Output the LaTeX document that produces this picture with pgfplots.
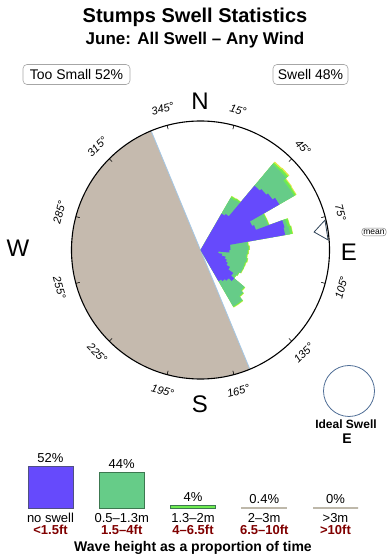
\documentclass[border=0pt]{standalone}
\usepackage{pgfplots}
\pgfplotsset{compat=1.18}
\usepackage{pgfplotstable}
\usepgfplotslibrary{polar}
\usepackage{fontspec}
\setmainfont{Liberation Sans}
\definecolor{cblue}{RGB}{102,74,252}
\definecolor{cgreen}{RGB}{102,204,136}
\definecolor{clgreen}{RGB}{110,236,80}
\definecolor{cyel}{RGB}{225,232,70}
\definecolor{land}{RGB}{197,186,174}
\definecolor{edgeblue}{RGB}{165,200,230}
\definecolor{bluedark}{RGB}{80,80,130}
\definecolor{greendark}{RGB}{60,120,80}
\definecolor{cgray}{RGB}{190,184,170}
\definecolor{dred}{RGB}{128,0,0}
\definecolor{arrowc}{RGB}{50,70,90}
\definecolor{idealc}{RGB}{80,110,150}
% compass direction (deg), cumulative radii: blue, green, light green, yellow
\pgfplotstableread{
ang b g lg yl
30 0 0 0 0
30 42 60 62 62.5
35 42 60 62 62.5
35 44 61 62.5 63
40 44 61 62.5 63
40 84 112 114 115.5
45 84 112 114 115.5
45 86 112 114.5 116
50 86 112 114.5 116
50 88 108 110.5 111.5
55 88 108 110.5 111.5
55 91 108 110 111
60 91 108 110 111
60 57 72 73 73.5
65 57 72 73 73.5
65 59 72 73 73.5
70 59 72 73 73.5
70 87 90 92.5 93
75 87 90 92.5 93
75 86 91 93.5 94
80 86 91 93.5 94
80 30 47 48 48.5
85 30 47 48 48.5
85 30 48 49 49.5
90 30 48 49 49.5
90 29 47 48 48.5
95 29 47 48 48.5
95 18 46 47 47.5
100 18 46 47 47.5
100 22 47 48 48.5
105 22 47 48 48.5
105 26 46 47 47.5
110 26 46 47 47.5
110 28 46 47 47
115 28 46 47 47
115 30 46 46.5 47
120 30 46 46.5 47
120 34 44 45 45
125 34 44 45 45
125 40 43 44 44
130 40 43 44 44
130 44 57 58 58.5
135 44 57 58 58.5
135 40 60 61 61.5
140 40 60 61 61.5
140 38 65 66 66.5
145 38 65 66 66.5
145 36 65 66 66.5
150 36 65 66 66.5
150 0 0 0 0
}\rose
\begin{document}
\begin{tikzpicture}
\path[use as bounding box] (0pt,0pt) rectangle (390pt,560pt);
\node[font=\fontsize{20}{22}\selectfont\bfseries] at (195pt,543pt) {Stumps Swell Statistics};
\node[font=\fontsize{17}{19}\selectfont\bfseries] at (195pt,520pt) {June: All Swell – Any Wind};
\node[draw=gray!70, rounded corners=4pt, line width=0.6pt, minimum width=107pt, minimum height=20pt, inner sep=1pt, font=\fontsize{14}{15}\selectfont] at (76.5pt,485.5pt) {Too Small 52\%};
\node[draw=gray!70, rounded corners=4pt, line width=0.6pt, minimum width=75pt, minimum height=20pt, inner sep=1pt, font=\fontsize{14}{15}\selectfont] at (310.5pt,485.5pt) {Swell 48\%};

\begin{polaraxis}[
  at={(200.5pt,310pt)}, anchor=origin,
  scale only axis, width=258pt, height=258pt,
  xmin=0, xmax=360, ymin=0, ymax=129,
  xtick={15,45,...,345},
  xticklabel={\relax},
  ytick=\empty, grid=none,
  x axis line style={black, line width=1.1pt},
  y axis line style={draw=none},
  tick align=outside, major tick length=4pt,
  tick style={black, line width=0.6pt},
  axis on top, clip=false,
  compass/.style={x filter/.expression={mod(450-x,360)}},
]
\addplot[compass, fill=land, draw=none] coordinates {(0,0) (157.5,129) (165,129) (175,129) (185,129) (195,129) (205,129) (215,129) (225,129) (235,129) (245,129) (255,129) (265,129) (275,129) (285,129) (295,129) (305,129) (315,129) (325,129) (335,129) (337.5,129)} -- cycle;
\addplot[compass, draw=edgeblue, line width=0.8pt] coordinates {(337.5,129) (157.5,129)};
\addplot[compass, fill=cyel, draw=none] table[x=ang, y=yl] {\rose} -- cycle;
\addplot[compass, fill=clgreen, draw=none] table[x=ang, y=lg] {\rose} -- cycle;
\addplot[compass, fill=cgreen, draw=none] table[x=ang, y=g] {\rose} -- cycle;
\addplot[compass, fill=cblue, draw=none] table[x=ang, y=b] {\rose} -- cycle;
\addplot[compass, draw=arrowc, fill=white, line width=0.8pt] coordinates {(81,115) (76.5,128) (85.5,128)} -- cycle;
\begin{scope}[font=\fontsize{11}{12}\selectfont\itshape]
\node[rotate=-15] at (axis cs:75,145) {15°};
\node[rotate=-45] at (axis cs:45,145) {45°};
\node[rotate=-75] at (axis cs:15,145) {75°};
\node[rotate=75] at (axis cs:345,146) {105°};
\node[rotate=45] at (axis cs:315,146) {135°};
\node[rotate=15] at (axis cs:285,146) {165°};
\node[rotate=-15] at (axis cs:255,146) {195°};
\node[rotate=-45] at (axis cs:225,146) {225°};
\node[rotate=-75] at (axis cs:195,146) {255°};
\node[rotate=75] at (axis cs:165,146) {285°};
\node[rotate=45] at (axis cs:135,146) {315°};
\node[rotate=15] at (axis cs:105,146) {345°};
\end{scope}
\end{polaraxis}

\begin{scope}[font=\fontsize{24}{26}\selectfont]
\node at (200pt,459pt) {N};
\node at (200pt,156pt) {S};
\node at (18pt,312pt) {W};
\node at (349pt,308pt) {E};
\end{scope}
\node[draw=gray, rounded corners=3pt, line width=0.5pt, font=\fontsize{8.5}{9}\selectfont, inner sep=1.5pt] at (374pt,328pt) {mean};
\draw[idealc, line width=0.8pt] (349pt,169pt) circle (25.5pt);
\node[font=\fontsize{12}{13}\selectfont\bfseries] at (346pt,136pt) {Ideal Swell};
\node[font=\fontsize{14}{15}\selectfont\bfseries] at (347pt,121pt) {E};

\begin{axis}[
  at={(14.875pt,52pt)}, anchor=south west,
  scale only axis, width=356.25pt, height=48.6pt,
  xmin=-0.5, xmax=4.5, ymin=0, ymax=60,
  axis line style={draw=none},
  ytick=\empty, xtick={0,1,2,3,4},
  major tick length=0pt,
  xticklabels={{no swell\\\textcolor{dred}{\bfseries <1.5ft}},
               {0.5–1.3m\\\textcolor{dred}{\bfseries 1.5–4ft}},
               {1.3–2m\\\textcolor{dred}{\bfseries 4–6.5ft}},
               {2–3m\\\textcolor{dred}{\bfseries 6.5–10ft}},
               {>3m\\\textcolor{dred}{\bfseries >10ft}}},
  xticklabel style={align=center, font=\fontsize{13}{12.5}\selectfont, yshift=-1.5pt},
  xlabel={Wave height as a proportion of time},
  xlabel style={font=\fontsize{14}{15}\selectfont\bfseries, yshift=1pt},
  ybar, bar width=45pt, bar shift=0pt,
  /pgf/number format/assume math mode=true,
  nodes near coords={\pgfmathprintnumber{\pgfplotspointmeta}\%},
  every node near coord/.append style={font=\fontsize{13}{14}\selectfont, black},
  clip=false,
]
\addplot[fill=cblue, draw=bluedark] coordinates {(0,52)};
\addplot[fill=cgreen, draw=greendark] coordinates {(1,44)};
\addplot[fill=clgreen, draw=greendark] coordinates {(2,4)};
\addplot[fill=cgray, draw=cgray, line width=1.2pt] coordinates {(3,0.4)};
\addplot[fill=cgray, draw=cgray, line width=1.2pt] coordinates {(4,0)};
\end{axis}
\end{tikzpicture}
\end{document}
